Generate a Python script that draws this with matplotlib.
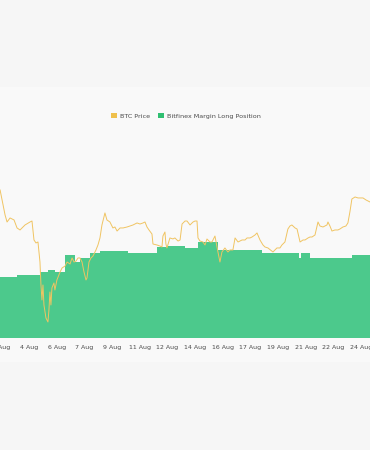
import matplotlib.pyplot as plt
from matplotlib.patches import Patch, Rectangle

# BTC price (day of August, USD)
price_days = [2.76, 2.94, 3.06, 3.18, 3.36, 3.60, 3.78, 3.96, 4.26, 4.56, 4.68, 4.80, 4.92,
              5.04, 5.16, 5.22, 5.28, 5.34, 5.40, 5.52, 5.64, 5.70, 5.76, 5.82, 5.88, 6.00,
              6.06, 6.18, 6.37, 6.49, 6.67, 6.79, 6.97, 7.09, 7.21, 7.33, 7.45, 7.57, 7.69,
              7.81, 7.93, 7.99, 8.05, 8.11, 8.23, 8.35, 8.53, 8.65, 8.77, 8.89, 9.07, 9.19,
              9.37, 9.55, 9.67, 9.80, 9.98, 10.16, 10.40, 10.58, 10.76, 11.00, 11.18, 11.36,
              11.48, 11.60, 11.72, 11.90, 11.96, 12.20, 12.38, 12.50, 12.56, 12.68, 12.74,
              12.80, 12.98, 13.16, 13.28, 13.47, 13.59, 13.71, 13.89, 14.01, 14.19, 14.37,
              14.49, 14.61, 14.67, 14.79, 14.97, 15.09, 15.21, 15.39, 15.51, 15.69, 15.87,
              15.99, 16.11, 16.29, 16.47, 16.59, 16.77, 16.90, 17.08, 17.32, 17.50, 17.62,
              17.80, 17.92, 18.10, 18.22, 18.40, 18.58, 18.70, 18.88, 19.18, 19.42, 19.60,
              19.72, 19.90, 20.08, 20.20, 20.32, 20.51, 20.63, 20.81, 20.99, 21.11, 21.29,
              21.41, 21.53, 21.71, 21.89, 22.01, 22.19, 22.43, 22.49, 22.61, 22.73, 22.91,
              23.09, 23.21, 23.39, 23.57, 23.69, 23.81, 23.93, 24.12, 24.30, 24.42, 24.60,
              24.78, 25.02]
btc_price = [65370, 63510, 62270, 61400, 61900, 61650, 60660, 60410, 61030, 61400, 61520, 59170, 58800,
             58920, 56440, 53590, 51730, 53590, 51110, 49500, 49000, 50490, 52720, 51110, 53220, 53840,
             52970, 54210, 55200, 55700, 55940, 56440, 56190, 56940, 56440, 56560, 56940, 56940, 56440,
             55200, 54210, 54460, 55450, 56440, 56940, 57180, 57930, 58550, 59420, 61030, 62520, 61650,
             61400, 60660, 60780, 60280, 60660, 60660, 60780, 60900, 61030, 61280, 61150, 61280,
             61400, 60780, 60410, 59910, 58670, 58550, 58420, 58300, 59660, 60160, 58670,
             58180, 59420, 59300, 59420, 59040, 59170, 61150, 61520, 61520, 61030, 61400,
             61520, 61520, 59420, 59040, 58920, 58550, 59290, 58920, 58920, 59660, 57680,
             56440, 57680, 58180, 57680, 57930, 57930, 59420, 58920, 59170, 59170, 59420,
             59420, 59540, 59790, 60040, 59170, 58550, 58300, 58180, 57680, 58180, 58180,
             58550, 58920, 60530, 60900, 61030, 60660, 60530, 58920, 59170, 59170, 59420,
             59540, 59540, 59790, 61400, 60900, 60780, 61030, 61400, 60900, 60280, 60410,
             60410, 60530, 60780, 60900, 61280, 62640, 64250, 64500, 64380, 64380, 64380,
             64130, 63880]

# Bitfinex margin long position (BTC), stepped levels
long_days = [2.5, 3.78, 5.16, 5.64, 6.06, 6.67, 7.27, 7.57, 8.17, 8.77, 10.46, 12.20, 12.80,
             13.89, 14.67, 15.87, 18.52, 20.75, 20.87, 21.41, 23.93, 25.5]
long_pos = [48680, 50270, 52670, 54260, 52670, 66230, 60650, 63840, 67830, 69430, 67830, 72620,
            73420, 71820, 76610, 70220, 67830, 63840, 67830, 63840, 66230, 66230]

tick_days = [2.83, 4.5, 6.17, 7.83, 9.5, 11.17, 12.83, 14.5, 16.17, 17.83, 19.5, 21.17, 22.83, 24.5]
tick_labels = ['2 Aug', '4 Aug', '6 Aug', '7 Aug', '9 Aug', '11 Aug', '12 Aug', '14 Aug',
               '16 Aug', '17 Aug', '19 Aug', '21 Aug', '22 Aug', '24 Aug']

green = '#4cc98c'
gold = '#f0c462'

fig = plt.figure(figsize=(3.7, 4.5), dpi=100, facecolor='#f6f6f6')
fig.patches.append(Rectangle((0, 0.1956), 1, 0.611, transform=fig.transFigure,
                             facecolor='#f9f9f9', edgecolor='none', zorder=-1))

ax = fig.add_axes([0, 0.2489, 1, 0.4178])
ax.set_facecolor('none')
ax.fill_between(long_days, long_pos, step='post', color=green, linewidth=0)
ax.set_xlim(2.755, 25.02)
ax.set_ylim(0, 150000)
ax.set_xticks(tick_days)
ax.set_xticklabels(tick_labels)
ax.tick_params(axis='x', length=0, pad=5, labelsize=4.5, labelcolor='#4a4a4a')
ax.set_yticks([])
for s in ax.spines.values():
    s.set_visible(False)

ax2 = ax.twinx()
ax2.plot(price_days, btc_price, color=gold, linewidth=0.7)
ax2.set_ylim(47016, 70328)
ax2.set_yticks([])
for s in ax2.spines.values():
    s.set_visible(False)

handles = [Patch(facecolor='#efc04c', label='BTC Price'),
           Patch(facecolor='#2fbf71', label='Bitfinex Margin Long Position')]
fig.legend(handles=handles, loc='center', bbox_to_anchor=(0.503, 0.742), ncol=2, frameon=False,
           fontsize=4.6, handlelength=0.9, handleheight=0.9, handletextpad=0.5,
           columnspacing=1.3, labelcolor='#4a4a4a')

fig.savefig('out.png', dpi=100, facecolor=fig.get_facecolor())
